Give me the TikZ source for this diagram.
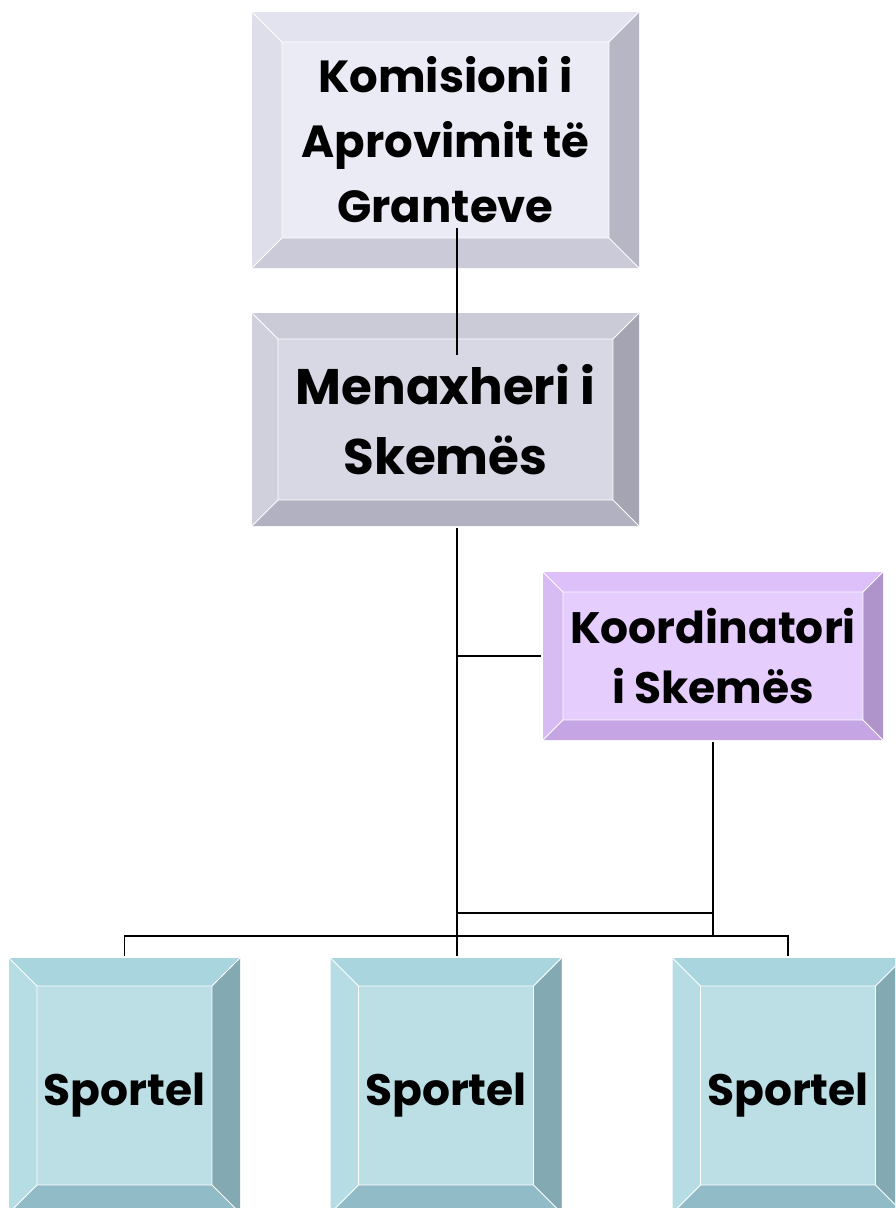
\documentclass[tikz,border=0pt]{standalone}
\usepackage{fontspec}
\setmainfont{Poppins}
% face, top, left, right and bottom tones of each kind of box
\definecolor{komface}{HTML}{EBEBF6}\definecolor{komtop}{HTML}{E3E3EF}
\definecolor{komleft}{HTML}{DEDEEA}\definecolor{komright}{HTML}{B6B6C5}
\definecolor{kombot}{HTML}{CACAD8}
\definecolor{menface}{HTML}{D8D8E4}\definecolor{mentop}{HTML}{CBCBD8}
\definecolor{menleft}{HTML}{D0D0DC}\definecolor{menright}{HTML}{A4A4B2}
\definecolor{menbot}{HTML}{B1B1C1}
\definecolor{kooface}{HTML}{E5CDFD}\definecolor{kootop}{HTML}{DDBFF9}
\definecolor{kooleft}{HTML}{D6BCF2}\definecolor{kooright}{HTML}{AF94CB}
\definecolor{koobot}{HTML}{C5A5E3}
\definecolor{spface}{HTML}{BCDFE5}\definecolor{sptop}{HTML}{A9D6DE}
\definecolor{spleft}{HTML}{B5DDE3}\definecolor{spright}{HTML}{83A9B2}
\definecolor{spbot}{HTML}{91BBC6}
\newcommand\lowered[1]{\raisebox{0pt}[\dimexpr\height+20pt\relax]{#1}}
\tikzset{
  % raised box: #1 bevel width, #2 face, #3 top, #4 left, #5 right, #6 bottom
  bevelbox/.style n args={6}{
    rectangle, inner sep=0pt, fill=#2, align=center, text=black,
    path picture={
      \def\pb{path picture bounding box}
      \fill[#3] (\pb.north west) -- (\pb.north east)
        -- ([shift={(-#1pt,-#1pt)}]\pb.north east) -- ([shift={(#1pt,-#1pt)}]\pb.north west) -- cycle;
      \fill[#6] (\pb.south west) -- (\pb.south east)
        -- ([shift={(-#1pt,#1pt)}]\pb.south east) -- ([shift={(#1pt,#1pt)}]\pb.south west) -- cycle;
      \fill[#4] (\pb.north west) -- (\pb.south west)
        -- ([shift={(#1pt,#1pt)}]\pb.south west) -- ([shift={(#1pt,-#1pt)}]\pb.north west) -- cycle;
      \fill[#5] (\pb.north east) -- (\pb.south east)
        -- ([shift={(-#1pt,#1pt)}]\pb.south east) -- ([shift={(-#1pt,-#1pt)}]\pb.north east) -- cycle;
      \draw[white, line width=0.9pt]
        ([shift={(#1pt,-#1pt)}]\pb.north west) rectangle ([shift={(-#1pt,#1pt)}]\pb.south east)
        (\pb.north west) -- ([shift={(#1pt,-#1pt)}]\pb.north west)
        (\pb.north east) -- ([shift={(-#1pt,-#1pt)}]\pb.north east)
        (\pb.south west) -- ([shift={(#1pt,#1pt)}]\pb.south west)
        (\pb.south east) -- ([shift={(-#1pt,#1pt)}]\pb.south east);
    }},
  kombox/.style={bevelbox={30}{komface}{komtop}{komleft}{komright}{kombot},
    minimum width=387pt, minimum height=256pt,
    font=\bfseries\fontsize{45}{65}\selectfont},
  menbox/.style={bevelbox={26}{menface}{mentop}{menleft}{menright}{menbot},
    minimum width=387pt, minimum height=213pt,
    font=\bfseries\fontsize{50}{70}\selectfont},
  koobox/.style={bevelbox={20}{kooface}{kootop}{kooleft}{kooright}{koobot},
    minimum width=340pt, minimum height=168pt,
    font=\bfseries\fontsize{44}{60}\selectfont},
  spbox/.style={bevelbox={28}{spface}{sptop}{spleft}{spright}{spbot},
    minimum width=231pt, minimum height=255pt,
    font=\bfseries\fontsize{44}{60}\selectfont},
  conn/.style={draw=black, line width=1.4pt},
}
\begin{document}
\begin{tikzpicture}[x=1pt, y=-1pt]
  \useasboundingbox (0,0) rectangle (895,1208);
  \clip (0,0) rectangle (895,1208);

  % boxes
  \node[kombox] (kom) at (445.5,140) {Komisioni i\\Aprovimit të\\Granteve};
  \node[menbox] (men) at (445.5,419.5) {Menaxheri i\\Skemës};
  \node[koobox] (koo) at (713,656) {Koordinatori\\i Skemës};
  \node[spbox] (sp1) at (124.5,1085.5) {\lowered{Sportel}};
  \node[spbox] (sp2) at (446,1085.5) {\lowered{Sportel}};
  \node[spbox] (sp3) at (788,1085.5) {\lowered{Sportel}};

  % junction points on the connectors
  \coordinate (trunkkoo) at (457,656);
  \coordinate (trunkmid) at (457,913);
  \coordinate (koomid) at (713,913);
  \coordinate (trunkbus) at (457,936);
  \coordinate (koobus) at (713,936);

  % connectors
  \draw[conn] ([xshift=11.5pt,yshift=40pt]kom.south) -- ([xshift=11.5pt,yshift=-42pt]men.north);
  \draw[conn] ([xshift=11.5pt,yshift=-2pt]men.south) -- (trunkbus);
  \draw[conn] (trunkkoo) -- ([xshift=-2pt]koo.west);
  \draw[conn] ([yshift=-2pt]koo.south) -- (koobus);
  \draw[conn] (trunkmid) -- (koomid);
  \draw[conn] ([yshift=2pt]sp1.north) -- ++(0,-20) -| ([yshift=2pt]sp3.north);
  \draw[conn] (trunkbus) -- ([xshift=11pt,yshift=2pt]sp2.north);
\end{tikzpicture}
\end{document}
